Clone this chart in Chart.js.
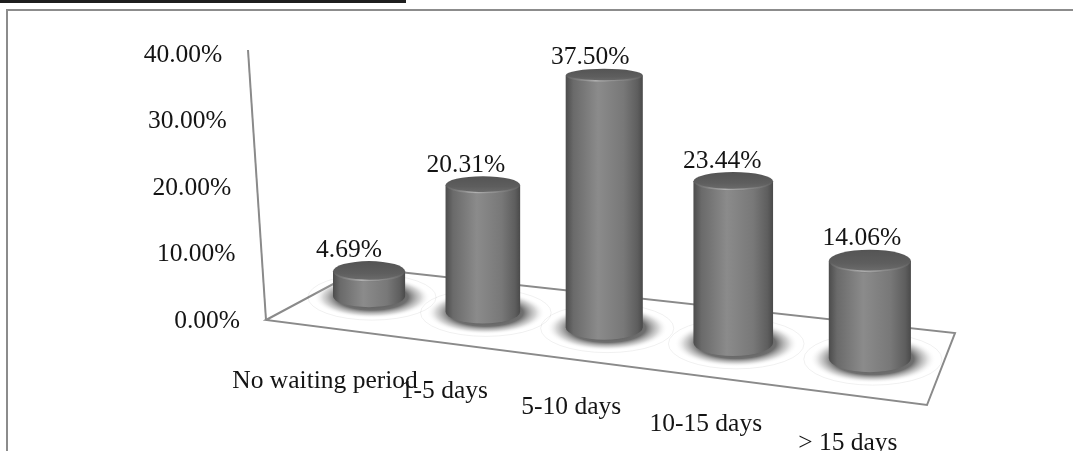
<!DOCTYPE html>
<html>
<head>
<meta charset="utf-8">
<script src="https://cdn.jsdelivr.net/npm/chart.js@4.4.1/dist/chart.umd.min.js"></script>
<style>
  html, body { margin: 0; padding: 0; background: #fff; }
  #wrap { position: relative; width: 1073px; height: 451px; }
</style>
</head>
<body>
<div id="wrap"><canvas id="waitChart" width="1073" height="451"></canvas></div>
<script>
// Waiting period before treatment, share of respondents (%)
const categories = ['No waiting period', '1-5 days', '5-10 days', '10-15 days', '> 15 days'];
const shares = [4.69, 20.31, 37.50, 23.44, 14.06];
const axisMin = 0;
const axisMax = 40;
const axisStep = 10;

const FONT = '25.5px "Liberation Serif", "Times New Roman", serif';
const TEXT = '#141414';
const EDGE = '#8a8a8a';

// axis wall leans a little, floor runs downhill towards the viewer's right
const AXIS_LEAN = 18 / 270;
const FLOOR_SLOPE = 0.1286;

function pct(v) {
  return v.toFixed(2) + '%';
}

// y/x ratio of a disc seen from above, flatter higher up the page
function discRatio(y) {
  return 0.13 + 0.00056 * y;
}

function drawShadow(ctx, cx, baseY, rx, ryB) {
  const sx = rx + 22, sy = ryB + 10;
  ctx.save();
  ctx.translate(cx + 3, baseY + 1);
  ctx.scale(1, sy / sx);
  const rg = ctx.createRadialGradient(0, 0, 0, 0, 0, sx);
  rg.addColorStop(0, 'rgba(35,35,35,0.85)');
  rg.addColorStop(rx / sx, 'rgba(50,50,50,0.7)');
  rg.addColorStop(0.84, 'rgba(110,110,110,0.28)');
  rg.addColorStop(1, 'rgba(255,255,255,0)');
  ctx.beginPath();
  ctx.arc(0, 0, sx, 0, Math.PI * 2);
  ctx.fillStyle = rg;
  ctx.fill();
  ctx.restore();

  // faint outer ring of the shadow
  ctx.beginPath();
  ctx.ellipse(cx + 3, baseY + 1, rx + 28, ryB + 12, 0, 0, Math.PI * 2);
  ctx.strokeStyle = 'rgba(0,0,0,0.06)';
  ctx.lineWidth = 1;
  ctx.stroke();
}

function drawCylinder(ctx, cx, baseY, topY, rx, ryB, ryT) {
  const g = ctx.createLinearGradient(cx - rx, 0, cx + rx, 0);
  g.addColorStop(0, '#4c4c4c');
  g.addColorStop(0.1, '#6a6a6a');
  g.addColorStop(0.42, '#8b8b8b');
  g.addColorStop(0.75, '#787878');
  g.addColorStop(0.93, '#5e5e5e');
  g.addColorStop(1, '#4a4a4a');
  ctx.beginPath();
  ctx.moveTo(cx - rx, topY);
  ctx.lineTo(cx - rx, baseY);
  ctx.ellipse(cx, baseY, rx, ryB, 0, Math.PI, 0, true);
  ctx.lineTo(cx + rx, topY);
  ctx.closePath();
  ctx.fillStyle = g;
  ctx.fill();

  // lid
  const lg = ctx.createLinearGradient(0, topY - ryT, 0, topY + ryT);
  lg.addColorStop(0, '#545454');
  lg.addColorStop(0.6, '#5e5e5e');
  lg.addColorStop(1, '#6e6e6e');
  ctx.beginPath();
  ctx.ellipse(cx, topY, rx, ryT, 0, 0, Math.PI * 2);
  ctx.fillStyle = lg;
  ctx.fill();

  // bevel highlight along the front of the lid
  const hg = ctx.createLinearGradient(cx - rx, 0, cx + rx, 0);
  hg.addColorStop(0, 'rgba(160,160,160,0)');
  hg.addColorStop(0.4, 'rgba(180,180,180,0.95)');
  hg.addColorStop(1, 'rgba(160,160,160,0)');
  ctx.beginPath();
  ctx.ellipse(cx, topY, rx - 1, ryT - 1, 0, 0.08 * Math.PI, 0.92 * Math.PI);
  ctx.strokeStyle = hg;
  ctx.lineWidth = 1.6;
  ctx.stroke();
}

const cylinderPlugin = {
  id: 'cylinders',
  beforeDraw(chart) {
    const ctx = chart.ctx;
    ctx.save();
    ctx.fillStyle = '#ffffff';
    ctx.fillRect(0, 0, chart.width, chart.height);
    // frame
    ctx.strokeStyle = '#8c8c8c';
    ctx.lineWidth = 2;
    ctx.beginPath();
    ctx.moveTo(7, 451);
    ctx.lineTo(7, 10);
    ctx.lineTo(chart.width, 10);
    ctx.stroke();
    ctx.fillStyle = '#1e1e1e';
    ctx.fillRect(0, 0, 406, 3);
    ctx.restore();
  },
  afterDatasetsDraw(chart) {
    const ctx = chart.ctx;
    const area = chart.chartArea;
    const y = chart.scales.y;
    const meta = chart.getDatasetMeta(0);
    const y0 = y.getPixelForValue(axisMin);
    const axisX = py => 266 - (y0 - py) * AXIS_LEAN;
    const frontY = px => y0 + (px - axisX(y0)) * FLOOR_SLOPE;

    ctx.save();

    // floor
    const ax = axisX(y0);
    ctx.beginPath();
    ctx.moveTo(ax, y0);
    ctx.lineTo(ax + 97, y0 - 52);
    ctx.lineTo(area.right + 14, y0 + 13);
    ctx.lineTo(area.right - 14, frontY(area.right - 14));
    ctx.closePath();
    ctx.strokeStyle = EDGE;
    ctx.lineWidth = 2;
    ctx.lineJoin = 'miter';
    ctx.stroke();

    // value axis
    const yTop = y.getPixelForValue(axisMax) - 4;
    ctx.beginPath();
    ctx.moveTo(axisX(yTop), yTop);
    ctx.lineTo(ax, y0);
    ctx.stroke();

    ctx.font = FONT;
    ctx.fillStyle = TEXT;
    ctx.textAlign = 'right';
    ctx.textBaseline = 'middle';
    y.ticks.forEach(tk => {
      const py = y.getPixelForValue(tk.value);
      ctx.fillText(pct(tk.value), axisX(py) - 26, py + 1);
    });

    // bar geometry, from the category slot and the value scale
    const bars = meta.data.map((el, i) => {
      const t = (el.x - area.left) / area.width;
      const catW = area.width / categories.length;
      const cx = el.x - 95 * t * (1 - t);
      const rx = catW * (0.283 + 0.05 * t);
      const bottom = y0 - 21 + 81.25 * t;
      const ryB = rx * discRatio(bottom);
      const baseY = bottom - ryB;
      const depth = 1.04 - 0.24 * Math.pow(1 - (t - 0.1) / 0.8, 3);
      const h = (y0 - y.getPixelForValue(shares[i])) * depth;
      const topY = baseY - h;
      const ryT = rx * discRatio(topY);
      return { t, cx, rx, baseY, ryB, topY, ryT, value: shares[i] };
    });

    bars.forEach(b => drawShadow(ctx, b.cx, b.baseY, b.rx, b.ryB));

    ctx.textAlign = 'center';
    bars.forEach(b => {
      ctx.fillText(pct(b.value), b.cx - 21.5 + 15 * b.t, b.topY - b.ryT - 11);
    });

    bars.forEach(b => drawCylinder(ctx, b.cx, b.baseY, b.topY, b.rx, b.ryB, b.ryT));

    // category labels sit under the front edge of the floor
    ctx.fillStyle = TEXT;
    bars.forEach((b, i) => {
      const lx = b.cx - 46.75 + 27.5 * b.t;
      ctx.fillText(categories[i], lx, frontY(lx) + 48 + 6 * (1 - b.t) * (b.t < 0.2));
    });

    ctx.restore();
  }
};

const ctx = document.getElementById('waitChart').getContext('2d');
new Chart(ctx, {
  type: 'bar',
  data: {
    labels: categories,
    datasets: [{
      data: shares,
      backgroundColor: 'rgba(0,0,0,0)',
      borderWidth: 0
    }]
  },
  options: {
    responsive: false,
    animation: false,
    layout: { padding: { left: 315, right: 132, top: 54, bottom: 131 } },
    plugins: {
      legend: { display: false },
      tooltip: { enabled: false }
    },
    scales: {
      x: { display: false },
      y: {
        display: false,
        min: axisMin,
        max: axisMax,
        ticks: { stepSize: axisStep }
      }
    }
  },
  plugins: [cylinderPlugin]
});
</script>
</body>
</html>
